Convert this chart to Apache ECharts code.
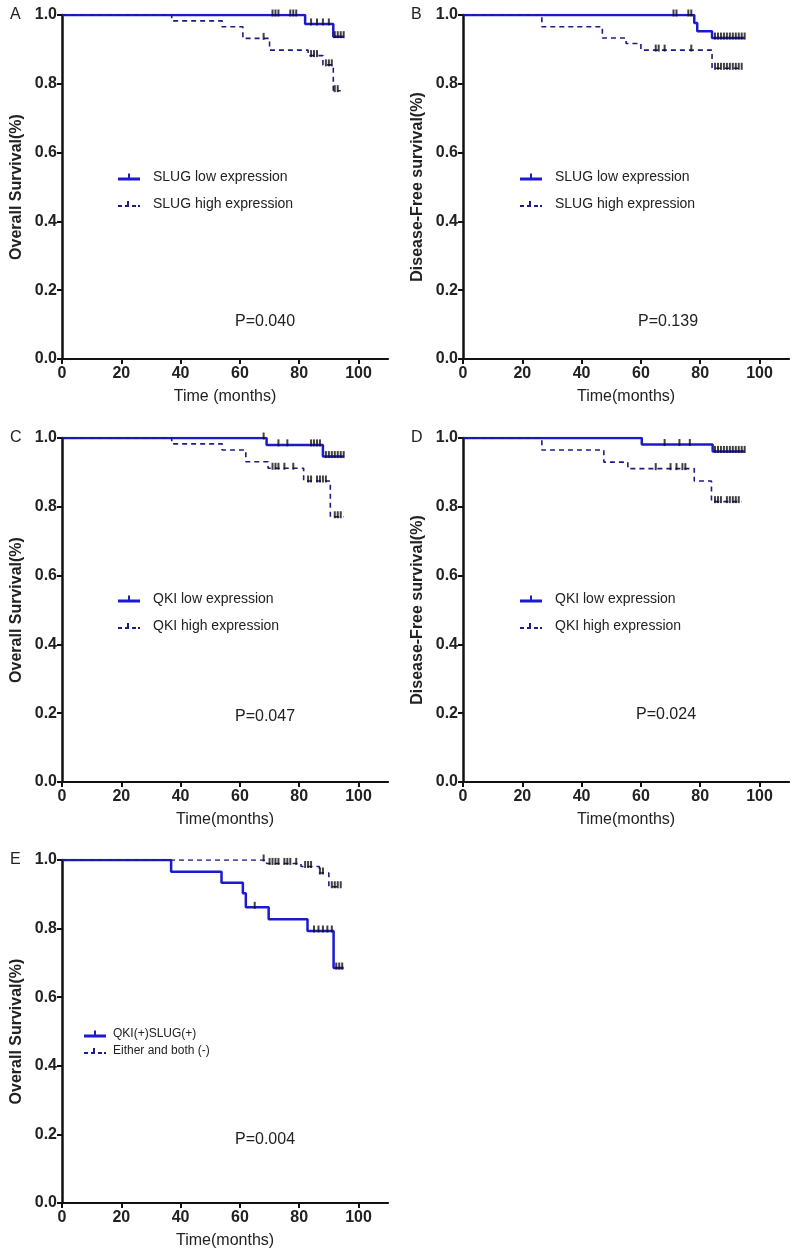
<!DOCTYPE html>
<html>
<head>
<meta charset="utf-8">
<script src="https://cdn.jsdelivr.net/npm/echarts@6/dist/echarts.min.js"></script>
<style>
html, body { margin: 0; background: #fff; }
#chartmain { width: 793px; height: 1259px; }
</style>
</head>
<body>
<div id="chartmain"></div>
<script>
// 各面板的数据 (时间: 月, 生存率)
var xTicks = [0, 20, 40, 60, 80, 100];
var yTicks = [0, 0.2, 0.4, 0.6, 0.8, 1.0];

// A: SLUG, OS
var aLowTime = [0, 82, 91.5, 95];
var aLowSurv = [1, 0.974, 0.937, 0.937];
var aLowCens = [71, 72, 73, 77, 78, 79, 84, 86, 88, 90, 92, 93, 94, 95];
var aHighTime = [0, 37, 54, 61, 70, 83, 88, 91.5, 94];
var aHighSurv = [1, 0.983, 0.966, 0.932, 0.898, 0.882, 0.855, 0.78, 0.78];
var aHighCens = [68, 84, 85, 86, 89, 90, 91, 92, 93];

// B: SLUG, DFS
var bLowTime = [0, 78, 79, 84, 95];
var bLowSurv = [1, 0.977, 0.953, 0.933, 0.933];
var bLowCens = [71, 72, 76, 77, 85, 86, 87, 88, 89, 90, 91, 92, 93, 94, 95];
var bHighTime = [0, 26.6, 47, 55, 60, 84, 94];
var bHighSurv = [1, 0.966, 0.933, 0.917, 0.898, 0.845, 0.845];
var bHighCens = [65, 66, 68, 77, 85, 86, 87, 88, 89, 90, 91, 92, 93, 94];

// C: QKI, OS
var cLowTime = [0, 69, 88, 95];
var cLowSurv = [1, 0.98, 0.946, 0.946];
var cLowCens = [68, 73, 76, 84, 85, 86, 87, 89, 90, 91, 92, 93, 94, 95];
var cHighTime = [0, 37, 54, 62, 69.5, 81.5, 90.5, 95];
var cHighSurv = [1, 0.983, 0.965, 0.931, 0.912, 0.875, 0.771, 0.771];
var cHighCens = [71, 72, 73, 75, 78, 83, 84, 86, 87, 88, 89, 92, 93, 94];

// D: QKI, DFS
var dLowTime = [0, 60.3, 84.2, 95];
var dLowSurv = [1, 0.981, 0.961, 0.961];
var dLowCens = [68, 73, 76.5, 85, 86, 87, 88, 89, 90, 91, 92, 93, 94, 95];
var dHighTime = [0, 26.6, 47.5, 55.6, 78, 83.8, 94];
var dHighSurv = [1, 0.965, 0.93, 0.911, 0.875, 0.815, 0.815];
var dHighCens = [65, 70, 72, 74, 75, 85, 86, 87, 89, 90, 91, 92, 93];

// E: QKI(+)SLUG(+) vs 其他, OS
var eLowTime = [0, 36.8, 53.8, 61, 62, 69.7, 82.8, 91.6, 95];
var eLowSurv = [1, 0.966, 0.934, 0.903, 0.862, 0.827, 0.793, 0.685, 0.685];
var eLowCens = [65, 85, 86.5, 88, 89.5, 91, 92.5, 93.5, 94.5];
var eHighTime = [0, 69, 80.6, 86.8, 90, 94];
var eHighSurv = [1, 0.99, 0.981, 0.962, 0.922, 0.922];
var eHighCens = [68, 70, 71, 72, 73, 75, 76, 77, 79, 82, 83, 84, 87, 88, 91, 92, 93, 94];

var panels = [
	{ letter: 'A', yName: 'Overall Survival(%)', xName: 'Time (months)', p: 'P=0.040',
	  names: ['SLUG low expression', 'SLUG high expression'],
	  low: [aLowTime, aLowSurv, aLowCens], high: [aHighTime, aHighSurv, aHighCens] },
	{ letter: 'B', yName: 'Disease-Free survival(%)', xName: 'Time(months)', p: 'P=0.139',
	  names: ['SLUG low expression', 'SLUG high expression'],
	  low: [bLowTime, bLowSurv, bLowCens], high: [bHighTime, bHighSurv, bHighCens] },
	{ letter: 'C', yName: 'Overall Survival(%)', xName: 'Time(months)', p: 'P=0.047',
	  names: ['QKI low expression', 'QKI high expression'],
	  low: [cLowTime, cLowSurv, cLowCens], high: [cHighTime, cHighSurv, cHighCens] },
	{ letter: 'D', yName: 'Disease-Free survival(%)', xName: 'Time(months)', p: 'P=0.024',
	  names: ['QKI low expression', 'QKI high expression'],
	  low: [dLowTime, dLowSurv, dLowCens], high: [dHighTime, dHighSurv, dHighCens] },
	{ letter: 'E', yName: 'Overall Survival(%)', xName: 'Time(months)', p: 'P=0.004',
	  names: ['QKI(+)SLUG(+)', 'Either and both (-)'],
	  low: [eLowTime, eLowSurv, eLowCens], high: [eHighTime, eHighSurv, eHighCens] }
];

// 版面位置
var layout = [
	{ left: 62, top: 15, height: 344, legend: [113, 165], p: [265, 322] },
	{ left: 463, top: 15, height: 344, legend: [515, 165], p: [668, 322] },
	{ left: 62, top: 438, height: 344, legend: [113, 587], p: [265, 717] },
	{ left: 463, top: 438, height: 344, legend: [515, 587], p: [666, 715] },
	{ left: 62, top: 860, height: 343, legend: [79, 1023], p: [265, 1140] }
];

var FONT = '"Liberation Sans", Arial, sans-serif';
var LOW_COLOR = '#1a1ad2';
var HIGH_COLOR = '#1c1c86';
// 图例图标: 线段 + 删失标记
var ICON_SOLID = 'path://M0,5h22v3H0z M10,1h2v4h-2z';
var ICON_DASH = 'path://M0,6h4v2H0z M7,6h4v2H7z M14,6h4v2h-4z M9,2h2v4H9z M20,6h2v2h-2z';

function survAt(times, survs, t) {
	var s = survs[0];
	for (var i = 0; i < times.length; i++) {
		if (times[i] <= t) s = survs[i];
	}
	return s;
}

function zip(times, survs) {
	return times.map(function(t, i) { return [t, survs[i]]; });
}

var grids = [], xAxes = [], yAxes = [], series = [], legends = [], graphics = [];

panels.forEach(function(pn, k) {
	var L = layout[k];
	var w = 2.965 * 110;
	grids.push({ left: L.left, top: L.top, width: w, height: L.height });
	xAxes.push({
		gridIndex: k, type: 'value', min: 0, max: 110, interval: 20,
		name: pn.xName, nameLocation: 'middle', nameGap: 30,
		nameTextStyle: { fontFamily: FONT, fontSize: 16, color: '#222' },
		axisLine: { lineStyle: { color: '#111', width: 2 } },
		axisTick: { length: 5, lineStyle: { color: '#111', width: 2 }, customValues: xTicks },
		axisLabel: { fontFamily: FONT, fontSize: 16, fontWeight: 'bold', color: '#222', margin: 7, customValues: xTicks },
		splitLine: { show: false }
	});
	yAxes.push({
		gridIndex: k, type: 'value', min: 0, max: 1, interval: 0.2,
		name: pn.yName, nameLocation: 'middle', nameGap: 37,
		nameTextStyle: { fontFamily: FONT, fontSize: 16, fontWeight: 'bold', color: '#222' },
		axisLine: { onZero: false, lineStyle: { color: '#111', width: 2.5 } },
		axisTick: { show: true, length: 5, lineStyle: { color: '#111', width: 2 }, customValues: yTicks },
		axisLabel: { fontFamily: FONT, fontSize: 16, fontWeight: 'bold', color: '#222', margin: 5,
			customValues: yTicks,
			formatter: function(v) { return v.toFixed(1); } },
		splitLine: { show: false }
	});

	[['low', LOW_COLOR, 'solid', 2.5], ['high', HIGH_COLOR, [5, 4], 1.6]].forEach(function(g, j) {
		var d = pn[g[0]];
		series.push({
			name: pn.names[j], type: 'line', step: 'end', xAxisIndex: k, yAxisIndex: k,
			data: zip(d[0], d[1]), symbol: 'none', animation: false,
			lineStyle: { color: g[1], width: g[3], type: g[2] },
			itemStyle: { color: g[1] }
		});
		series.push({
			name: pn.names[j] + ' censored', type: 'scatter', xAxisIndex: k, yAxisIndex: k,
			data: d[2].map(function(t) { return [t, survAt(d[0], d[1], t)]; }),
			symbol: 'rect', symbolSize: [2, 7], symbolOffset: [0, -2], animation: false,
			itemStyle: { color: '#111' }, z: 3
		});
	});

	var small = (k === 4);
	legends.push({
		data: [
			{ name: pn.names[0], icon: ICON_SOLID },
			{ name: pn.names[1], icon: ICON_DASH }
		],
		orient: 'vertical', left: L.legend[0], top: L.legend[1],
		itemWidth: 22, itemHeight: small ? 9 : 10, itemGap: small ? 5 : 13,
		selectedMode: false,
		textStyle: { fontFamily: FONT, fontSize: small ? 12 : 14, color: '#222', padding: [0, 0, 0, small ? 2 : 8] }
	});

	graphics.push({
		type: 'text', x: L.left - 52, y: L.top,
		style: { text: pn.letter, font: '16px ' + FONT, fill: '#222', textVerticalAlign: 'middle' }
	});
	graphics.push({
		type: 'text', x: L.p[0], y: L.p[1],
		style: { text: pn.p, font: '16px ' + FONT, fill: '#222', textAlign: 'center', textVerticalAlign: 'middle' }
	});
});

var myChart = echarts.init(document.getElementById('chartmain'));
myChart.setOption({
	animation: false,
	grid: grids,
	xAxis: xAxes,
	yAxis: yAxes,
	legend: legends,
	series: series,
	graphic: graphics
});
</script>
</body>
</html>
